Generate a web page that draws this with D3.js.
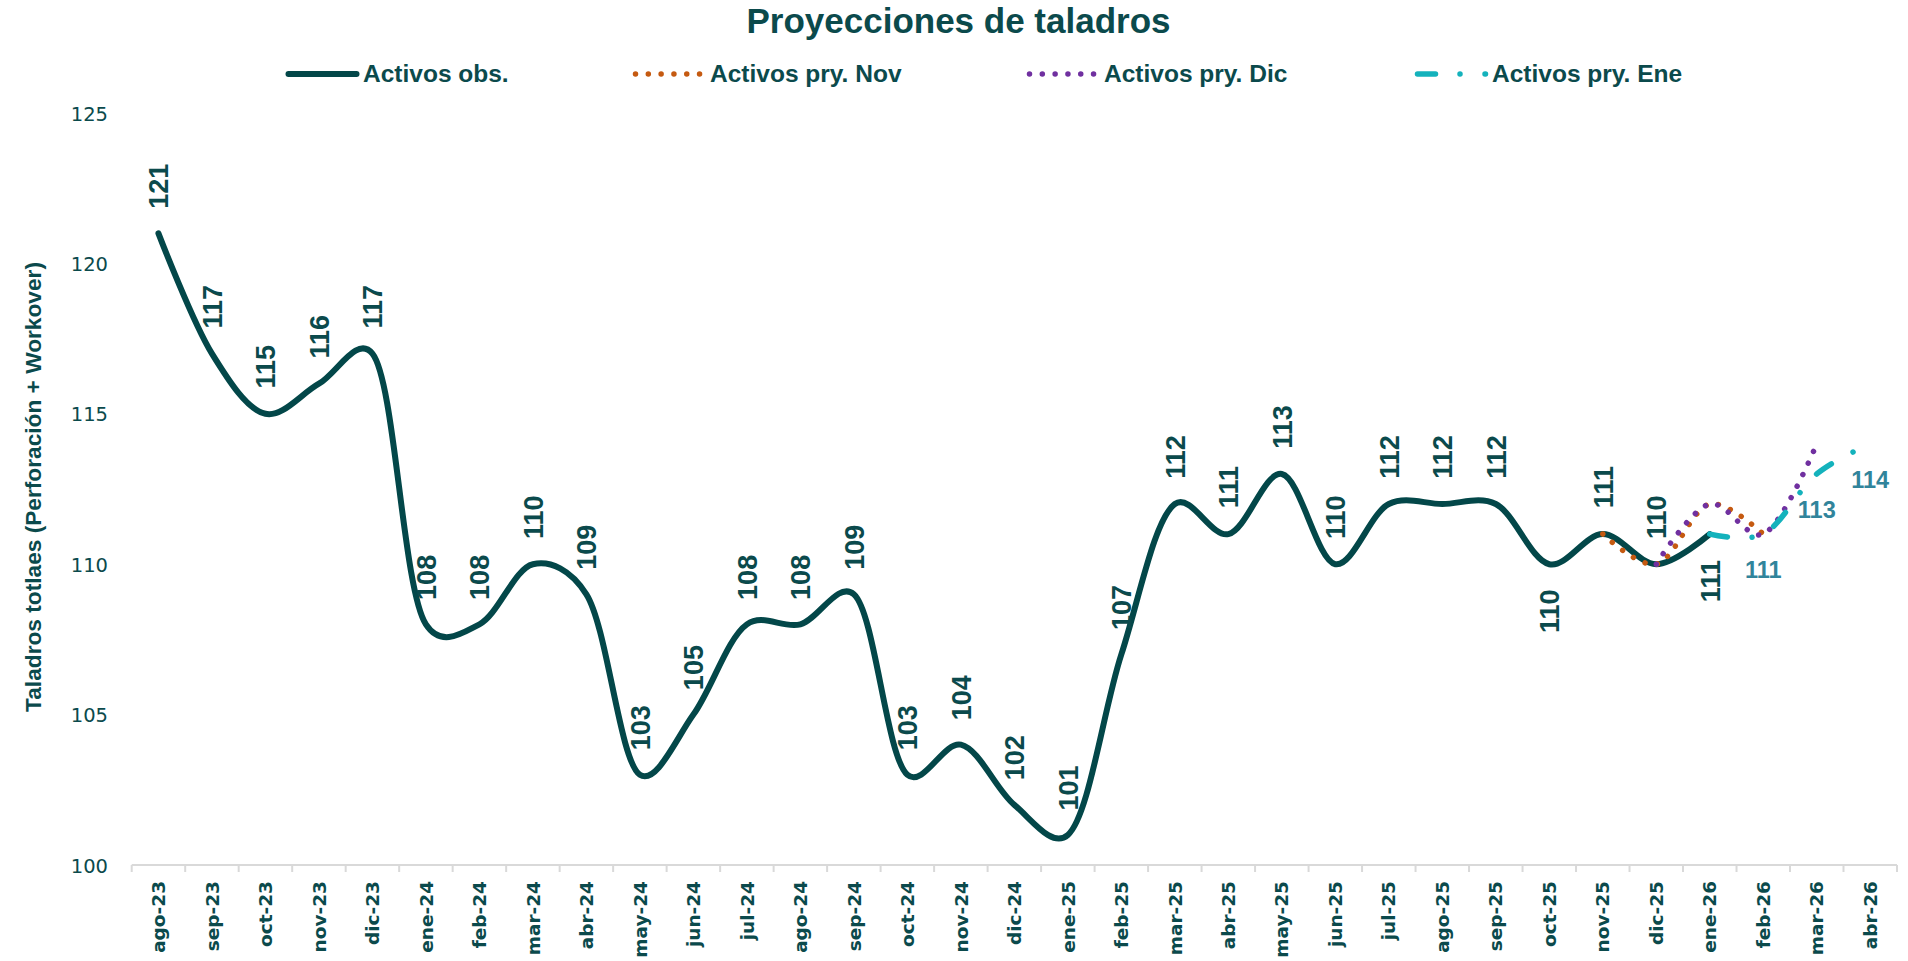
<!DOCTYPE html>
<html>
<head>
<meta charset="utf-8">
<script src="https://cdn.jsdelivr.net/npm/d3@7"></script>
<style>
  html, body { margin: 0; padding: 0; background: #ffffff; }
  svg { display: block; }
</style>
</head>
<body>
<svg id="chart" width="1908" height="961"></svg>
<script>
// ---------- DATA ----------
const categories = ["ago-23","sep-23","oct-23","nov-23","dic-23","ene-24","feb-24","mar-24","abr-24","may-24","jun-24","jul-24","ago-24","sep-24","oct-24","nov-24","dic-24","ene-25","feb-25","mar-25","abr-25","may-25","jun-25","jul-25","ago-25","sep-25","oct-25","nov-25","dic-25","ene-26","feb-26","mar-26","abr-26"];
const activosObs = [121,117,115,116,117,108,108,110,109,103,105,108,108,109,103,104,102,101,107,112,111,113,110,112,112,112,110,111,110,111,null,null,null];
const activosPryNov = [null,null,null,null,null,null,null,null,null,null,null,null,null,null,null,null,null,null,null,null,null,null,null,null,null,null,null,111,110,112,111,null,null];
const activosPryDic = [null,null,null,null,null,null,null,null,null,null,null,null,null,null,null,null,null,null,null,null,null,null,null,null,null,null,null,null,110,112,111,114,null];
const activosPryEne = [null,null,null,null,null,null,null,null,null,null,null,null,null,null,null,null,null,null,null,null,null,null,null,null,null,null,null,null,null,111,111,113,114];
const yTicks = [100,105,110,115,120,125];
const seriesNames = ["Activos obs.","Activos pry. Nov","Activos pry. Dic","Activos pry. Ene"];
const eneLabelCats = ["feb-26","mar-26","abr-26"];
const obsLabelsBelow = ["oct-25","ene-26"];
const titleText = "Proyecciones de taladros";
const yTitleText = "Taladros totlaes (Perforación + Workover)";

// ---------- STYLE / LAYOUT ----------
const C_DARK = "#034749";
const C_TEXT = "#0B4A4C";
const C_ORANGE = "#C55A11";
const C_PURPLE = "#7030A0";
const C_CYAN = "#14B2BC";
const C_CYAN_LBL = "#31849B";
const SANS = "'Liberation Sans', Arial, sans-serif";
const WIDE = "'DejaVu Sans', Verdana, sans-serif";
const legendStarts = [286, 633, 1027, 1415];

const svg = d3.select("#chart");

const x = d3.scaleBand().domain(categories).range([131.7, 1897]).padding(0);
const cx = c => x(c) + x.bandwidth() / 2;
const y = d3.scaleLinear().domain([100, 125]).range([865, 113]);

// ---------- TITLE ----------
svg.append("text")
  .attr("x", 958.5).attr("y", 33)
  .attr("text-anchor", "middle")
  .attr("font-family", SANS).attr("font-weight", "bold").attr("font-size", 35)
  .attr("fill", C_TEXT)
  .text(titleText);

// ---------- Y AXIS (labels only) ----------
const yAxis = d3.axisLeft(y).tickValues(yTicks).tickSize(0).tickPadding(0);
const gy = svg.append("g").attr("transform", "translate(108,0)").call(yAxis);
gy.select(".domain").remove();
gy.selectAll("text")
  .attr("font-family", WIDE).attr("font-size", 19.5).attr("fill", C_TEXT)
  .attr("dy", "0.36em");

svg.append("text")
  .attr("transform", "translate(33,487) rotate(-90)")
  .attr("text-anchor", "middle").attr("dy", "0.35em")
  .attr("font-family", SANS).attr("font-weight", "bold").attr("font-size", 22.7)
  .attr("fill", C_TEXT)
  .text(yTitleText);

// ---------- X AXIS ----------
const xr = x.range();
svg.append("line")
  .attr("x1", xr[0]).attr("x2", xr[1]).attr("y1", 865).attr("y2", 865)
  .attr("stroke", "#D9D9D9").attr("stroke-width", 2);
const edges = categories.map(c => x(c)).concat([xr[1]]);
svg.append("g").selectAll("line").data(edges).join("line")
  .attr("x1", d => d).attr("x2", d => d).attr("y1", 865).attr("y2", 872)
  .attr("stroke", "#D9D9D9").attr("stroke-width", 2);

const xAxis = d3.axisBottom(x).tickSize(0).tickPadding(0);
const gx = svg.append("g").attr("transform", "translate(0,881)").call(xAxis);
gx.select(".domain").remove();
gx.selectAll("text")
  .attr("font-family", WIDE).attr("font-weight", "bold").attr("font-size", 18.5)
  .attr("fill", C_TEXT)
  .attr("text-anchor", "end")
  .attr("transform", "rotate(-90)")
  .attr("x", 0).attr("y", 0).attr("dy", "0.36em");

// ---------- LINES ----------
const curve = d3.curveCatmullRom.alpha(0.25);
function series(vals) {
  return categories.map((c, i) => ({c, v: vals[i]})).filter(d => d.v !== null);
}
const line = d3.line().x(d => cx(d.c)).y(d => y(d.v)).curve(curve);

const defs = [
  {name: seriesNames[0], data: activosObs, color: C_DARK, width: 6, dash: null},
  {name: seriesNames[1], data: activosPryNov, color: C_ORANGE, width: 5.5, dash: "0.01 12.8"},
  {name: seriesNames[2], data: activosPryDic, color: C_PURPLE, width: 5.5, dash: "0.01 12.8"},
  {name: seriesNames[3], data: activosPryEne, color: C_CYAN, width: 5.5, dash: "18 24.5 0.01 25"}
];

defs.forEach(s => {
  svg.append("path")
    .datum(series(s.data))
    .attr("d", line)
    .attr("fill", "none")
    .attr("stroke", s.color)
    .attr("stroke-width", s.width)
    .attr("stroke-linecap", "round")
    .attr("stroke-linejoin", "round")
    .attr("stroke-dasharray", s.dash);
});

// ---------- DATA LABELS ----------
svg.append("g").selectAll("text").data(series(activosObs)).join("text")
  .attr("transform", d => {
    const below = obsLabelsBelow.includes(d.c);
    return `translate(${cx(d.c)},${y(d.v) + (below ? 47 : -47)}) rotate(-90)`;
  })
  .attr("text-anchor", "middle").attr("dy", "0.36em")
  .attr("font-family", SANS).attr("font-weight", "bold").attr("font-size", 27)
  .attr("fill", C_TEXT)
  .text(d => d.v);

svg.append("g").selectAll("text")
  .data(series(activosPryEne).filter(d => eneLabelCats.includes(d.c))).join("text")
  .attr("x", d => cx(d.c)).attr("y", d => y(d.v) + 44)
  .attr("text-anchor", "middle")
  .attr("font-family", SANS).attr("font-weight", "bold").attr("font-size", 23.5)
  .attr("fill", C_CYAN_LBL)
  .text(d => d.v);

// ---------- LEGEND ----------
const leg = svg.append("g");
defs.forEach((s, i) => {
  const sx = legendStarts[i];
  leg.append("line")
    .attr("x1", sx + 2.5).attr("x2", sx + 70.5).attr("y1", 74).attr("y2", 74)
    .attr("stroke", s.color).attr("stroke-width", s.dash ? 5.5 : 6)
    .attr("stroke-linecap", "round")
    .attr("stroke-dasharray", s.dash);
  leg.append("text")
    .attr("x", sx + 77).attr("y", 82)
    .attr("font-family", SANS).attr("font-weight", "bold").attr("font-size", 24.5)
    .attr("fill", C_TEXT)
    .text(s.name);
});
</script>
</body>
</html>
